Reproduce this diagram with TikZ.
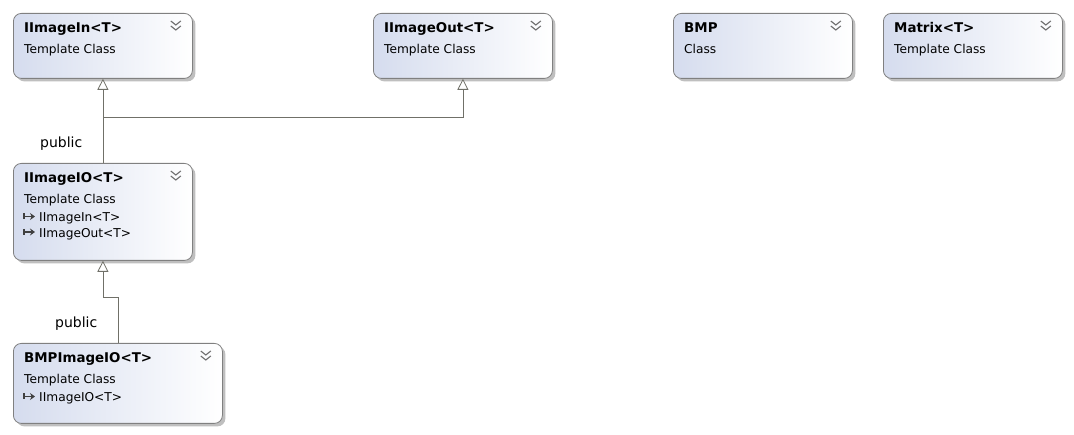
\documentclass[tikz,border=0pt]{standalone}
\usepackage{fontspec}
\setmainfont{DejaVu Sans}
\usetikzlibrary{arrows.meta,shadows,calc}
\definecolor{boxleft}{HTML}{D5DCEE}
\definecolor{boxborder}{HTML}{808080}
\definecolor{connc}{HTML}{707068}
\definecolor{chev}{HTML}{6E6E6E}
\tikzset{
  cls/.style={draw=boxborder, line width=0.8pt, rounded corners=8pt,
    left color=boxleft, right color=white, anchor=north west, inner sep=0pt,
    minimum height=65pt,
    drop shadow={shadow xshift=3pt, shadow yshift=-3pt, fill=black!25, opacity=1}},
  ttl/.style={anchor=base west, inner sep=0pt, font=\fontsize{13.4}{15}\selectfont\bfseries},
  sub/.style={anchor=base west, inner sep=0pt, font=\fontsize{12.2}{14}\selectfont},
  mem/.style={anchor=base west, inner sep=0pt, font=\fontsize{12.2}{14}\selectfont},
  lbl/.style={anchor=base west, inner sep=0pt, font=\fontsize{14}{16}\selectfont},
  inh/.style={draw=connc, line width=0.8pt, -{Triangle[open, width=11pt, length=11pt, fill=white]}},
  chevron/.style={draw=chev, line width=1.1pt},
  icon/.style={draw=black!75, line width=1.1pt}
}
\newcommand\chevrons[1]{%
  \draw[chevron] ($(#1.north east)+(-22,8)$) -- ++(5,4) -- ++(5,-4);
  \draw[chevron] ($(#1.north east)+(-22,13)$) -- ++(5,4) -- ++(5,-4);
}
\newcommand\implicon[1]{%
  \draw[icon] ($(#1)+(-15,-8.5)$) -- ++(0,6);
  \draw[icon, -{Stealth[length=5pt,width=7pt]}] ($(#1)+(-15,-5.5)$) -- ++(11,0);
}
\begin{document}
\begin{tikzpicture}[x=1pt,y=-1pt]
\useasboundingbox (0,0) rectangle (1074,435);
% boxes
\node[cls, minimum width=179pt] (in) at (13,13) {};
\node[cls, minimum width=179pt] (out) at (373,13) {};
\node[cls, minimum width=179pt] (bmp) at (673,13) {};
\node[cls, minimum width=179pt] (mat) at (883,13) {};
\node[cls, minimum width=179pt, minimum height=97pt] (io) at (13,163) {};
\node[cls, minimum width=209pt, minimum height=80pt] (bio) at (13,343) {};
% texts
\node[ttl] (inT) at ($(in.north west)+(11,20)$) {IImageIn<T>};
\node[sub] (inS) at ($(in.north west)+(11,40.5)$) {Template Class};
\node[ttl] (outT) at ($(out.north west)+(11,20)$) {IImageOut<T>};
\node[sub] (outS) at ($(out.north west)+(11,40.5)$) {Template Class};
\node[ttl] (bmpT) at ($(bmp.north west)+(11,20)$) {BMP};
\node[sub] (bmpS) at ($(bmp.north west)+(11,40.5)$) {Class};
\node[ttl] (matT) at ($(mat.north west)+(11,20)$) {Matrix<T>};
\node[sub] (matS) at ($(mat.north west)+(11,40.5)$) {Template Class};
\node[ttl] (ioT) at ($(io.north west)+(11,20)$) {IImageIO<T>};
\node[sub] (ioS) at ($(io.north west)+(11,40.5)$) {Template Class};
\node[mem] (ioM1) at ($(io.north west)+(26,59)$) {IImageIn<T>};
\node[mem] (ioM2) at ($(io.north west)+(26,74.5)$) {IImageOut<T>};
\node[ttl] (bioT) at ($(bio.north west)+(11,20)$) {BMPImageIO<T>};
\node[sub] (bioS) at ($(bio.north west)+(11,40.5)$) {Template Class};
\node[mem] (bioM1) at ($(bio.north west)+(26,59)$) {IImageIO<T>};
% icons
\chevrons{in}\chevrons{out}\chevrons{bmp}\chevrons{mat}\chevrons{io}\chevrons{bio}
\implicon{ioM1.base west}
\implicon{ioM2.base west}
\implicon{bioM1.base west}
% connectors
\draw[inh] (io.north) -- (in.south);
\draw[inh] (io.north) -- ++(0,-46) -| (out.south);
\draw[inh] (bio.north) -- ++(0,-46) -| (io.south);
% labels
\node[lbl] (l1) at (40,147.5) {public};
\node[lbl] (l2) at (55,327.5) {public};
\end{tikzpicture}
\end{document}
